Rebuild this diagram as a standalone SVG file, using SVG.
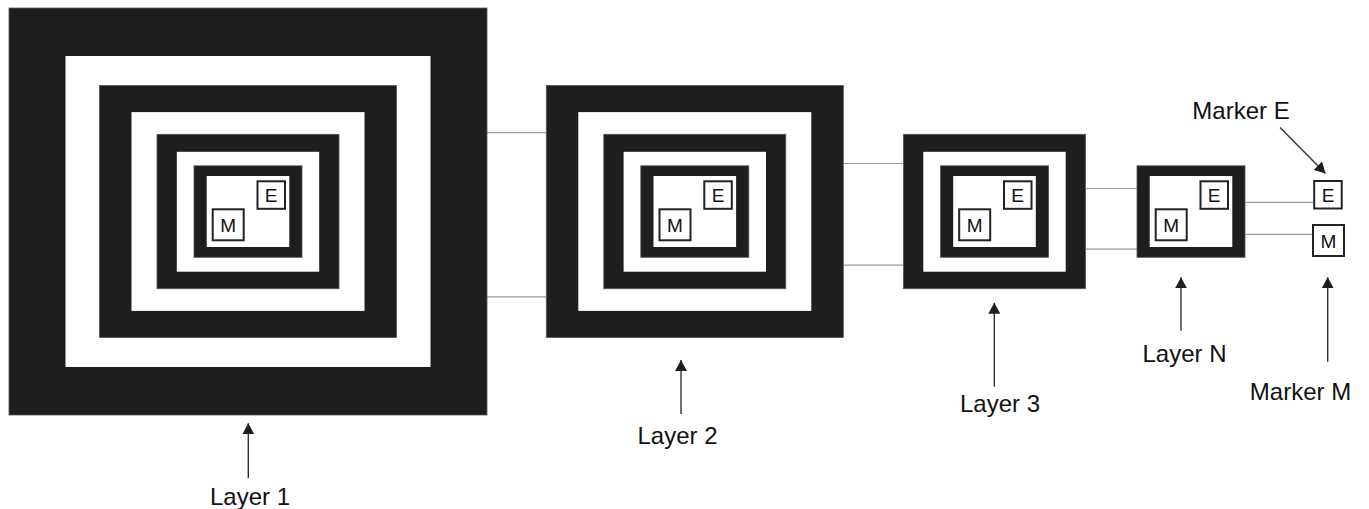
<svg xmlns="http://www.w3.org/2000/svg" width="1369" height="509" viewBox="0 0 1369 509">
<style>
.blk{fill:#1e1e1c;stroke:#555;stroke-width:0.8}
.wht{fill:#ffffff}
.box{fill:#ffffff;stroke:#222;stroke-width:2}
.ltr{font-family:"Liberation Sans",Arial,sans-serif;font-size:19px;fill:#111;text-anchor:middle}
.lbl{font-family:"Liberation Sans",Arial,sans-serif;font-size:24px;fill:#111;text-anchor:middle}
.con{stroke:#9a9a9a;stroke-width:1.2;fill:none}
.arr{stroke:#333;stroke-width:1.4;fill:none;marker-end:url(#ah)}
</style>
<defs>
<marker id="ah" viewBox="0 0 11 12" markerWidth="11" markerHeight="12" refX="11" refY="6" orient="auto" markerUnits="userSpaceOnUse">
<path d="M0,0 L11,6 L0,12 z" fill="#1e1e1c"/>
</marker>
<g id="core">
<rect class="blk" x="-54" y="-45.7" width="108" height="91.5"/>
<rect class="wht" x="-41.3" y="-35.5" width="82.6" height="71"/>
<rect class="box" x="9.5" y="-30.2" width="27.5" height="27.5"/>
<text class="ltr" x="23.2" y="-9.3">E</text>
<rect class="box" x="-35.3" y="-2.2" width="31" height="31"/>
<text class="ltr" x="-19.8" y="20.8">M</text>
</g>
</defs>
<g id="connectors">
<line class="con" x1="487" y1="132.7" x2="546.3" y2="132.7"/>
<line class="con" x1="487" y1="296.9" x2="546.3" y2="296.9"/>
<line class="con" x1="843.3" y1="163.5" x2="903.3" y2="163.5"/>
<line class="con" x1="843.3" y1="265.2" x2="903.3" y2="265.2"/>
<line class="con" x1="1085.7" y1="188.5" x2="1137.3" y2="188.5"/>
<line class="con" x1="1085.7" y1="249.2" x2="1137.3" y2="249.2"/>
<line class="con" x1="1244.7" y1="202.3" x2="1313.5" y2="202.3"/>
<line class="con" x1="1244.7" y1="234.3" x2="1312.3" y2="234.3"/>
<line class="arr" x1="248.3" y1="478.3" x2="248.3" y2="423.3"/>
<line class="arr" x1="681" y1="414" x2="681" y2="360"/>
<line class="arr" x1="994.3" y1="386.7" x2="994.3" y2="302.7"/>
<line class="arr" x1="1181" y1="330.7" x2="1181" y2="277.3"/>
<line class="arr" x1="1327.7" y1="361.7" x2="1327.7" y2="277.3"/>
<line class="arr" x1="1280" y1="127.5" x2="1325.5" y2="173.5"/>
</g>
<g id="layer1" transform="translate(248,211.5)">
<rect class="blk" x="-239" y="-203.5" width="478" height="407"/>
<rect class="wht" x="-182.5" y="-155.5" width="365" height="311"/>
<rect class="blk" x="-148.5" y="-126" width="297" height="252"/>
<rect class="wht" x="-116.5" y="-99.4" width="233" height="198.8"/>
<rect class="blk" x="-91" y="-77.2" width="182" height="154.4"/>
<rect class="wht" x="-71.2" y="-59.7" width="142.4" height="119.9"/>
<use href="#core"/>
</g>
<g id="layer2" transform="translate(694.8,211.5)">
<rect class="blk" x="-148.5" y="-126" width="297" height="252"/>
<rect class="wht" x="-116.5" y="-99.4" width="233" height="198.8"/>
<rect class="blk" x="-91" y="-77.2" width="182" height="154.4"/>
<rect class="wht" x="-71.2" y="-59.7" width="142.4" height="119.9"/>
<use href="#core"/>
</g>
<g id="layer3" transform="translate(994.5,211.5)">
<rect class="blk" x="-91" y="-77.2" width="182" height="154.4"/>
<rect class="wht" x="-71.2" y="-59.7" width="142.4" height="119.9"/>
<use href="#core"/>
</g>
<g id="layerN" transform="translate(1191,211.5)">
<use href="#core"/>
</g>
<g id="markerE">
<rect class="box" x="1314.2" y="181" width="27.5" height="27.5"/>
<text class="ltr" x="1328" y="202">E</text>
</g>
<g id="markerM">
<rect class="box" x="1313" y="225" width="31" height="31"/>
<text class="ltr" x="1328.5" y="248">M</text>
</g>
<g id="labels">
<text class="lbl" x="250" y="505">Layer 1</text>
<text class="lbl" x="677.5" y="444">Layer 2</text>
<text class="lbl" x="1000" y="412">Layer 3</text>
<text class="lbl" x="1184.5" y="362">Layer N</text>
<text class="lbl" x="1300.5" y="400">Marker M</text>
<text class="lbl" x="1241" y="119">Marker E</text>
</g>
</svg>
